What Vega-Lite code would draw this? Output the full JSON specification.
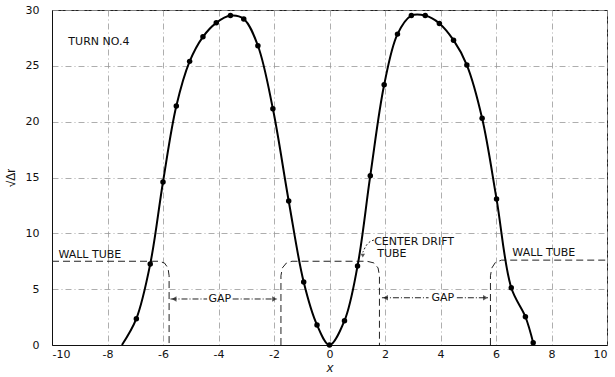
{
  "$schema": "https://vega.github.io/schema/vega-lite/v6.json",
  "width": 555,
  "height": 335,
  "autosize": "none",
  "padding": {"left": 52, "top": 10, "right": 8, "bottom": 32},
  "background": "white",
  "config": {
    "font": "Liberation Sans",
    "view": {"stroke": "#222", "strokeWidth": 1},
    "axis": {
      "labelFont": "DejaVu Sans",
      "labelFontSize": 11,
      "labelColor": "#111",
      "titleColor": "#111",
      "domainColor": "#111",
      "ticks": false,
      "grid": true,
      "gridColor": "#999",
      "gridDash": [6, 3, 1, 3],
      "gridWidth": 0.8
    }
  },
  "datasets": {
    "curve": [
      {"x": -7.48, "y": 0}, {"x": -6.96, "y": 2.36}, {"x": -6.46, "y": 7.25},
      {"x": -6.0, "y": 14.6}, {"x": -5.52, "y": 21.4}, {"x": -5.04, "y": 25.4},
      {"x": -4.56, "y": 27.6}, {"x": -4.08, "y": 28.85}, {"x": -3.57, "y": 29.5},
      {"x": -3.09, "y": 29.2}, {"x": -2.58, "y": 26.8}, {"x": -2.04, "y": 21.15},
      {"x": -1.47, "y": 12.9}, {"x": -0.93, "y": 5.64}, {"x": -0.45, "y": 1.8},
      {"x": 0, "y": 0}, {"x": 0.54, "y": 2.18}, {"x": 1.01, "y": 7.07},
      {"x": 1.47, "y": 15.16}, {"x": 1.97, "y": 23.3}, {"x": 2.45, "y": 27.84},
      {"x": 2.95, "y": 29.5}, {"x": 3.45, "y": 29.5}, {"x": 3.96, "y": 28.8},
      {"x": 4.47, "y": 27.3}, {"x": 4.95, "y": 25.07}, {"x": 5.5, "y": 20.3},
      {"x": 6.02, "y": 13.07}, {"x": 6.55, "y": 5.13}, {"x": 7.06, "y": 2.53},
      {"x": 7.34, "y": 0.2}
    ],
    "tubes": [
      {"g": "L", "i": 0, "x": -10, "y": 7.5}, {"g": "L", "i": 1, "x": -6.15, "y": 7.5},
      {"g": "L", "i": 2, "x": -5.95, "y": 7.35}, {"g": "L", "i": 3, "x": -5.82, "y": 6.9},
      {"g": "L", "i": 4, "x": -5.78, "y": 6.2}, {"g": "L", "i": 5, "x": -5.78, "y": 0},
      {"g": "C", "i": 0, "x": -1.75, "y": 0}, {"g": "C", "i": 1, "x": -1.75, "y": 6.2},
      {"g": "C", "i": 2, "x": -1.7, "y": 6.9}, {"g": "C", "i": 3, "x": -1.55, "y": 7.35},
      {"g": "C", "i": 4, "x": -1.35, "y": 7.5}, {"g": "C", "i": 5, "x": 1.35, "y": 7.5},
      {"g": "C", "i": 6, "x": 1.6, "y": 7.35}, {"g": "C", "i": 7, "x": 1.75, "y": 6.9},
      {"g": "C", "i": 8, "x": 1.8, "y": 6.2}, {"g": "C", "i": 9, "x": 1.8, "y": 0},
      {"g": "R", "i": 0, "x": 5.8, "y": 0}, {"g": "R", "i": 1, "x": 5.8, "y": 6.2},
      {"g": "R", "i": 2, "x": 5.85, "y": 6.9}, {"g": "R", "i": 3, "x": 5.98, "y": 7.4},
      {"g": "R", "i": 4, "x": 6.2, "y": 7.6}, {"g": "R", "i": 5, "x": 10, "y": 7.6}
    ],
    "gapSegs": [
      {"x": -5.73, "x2": -4.41, "y": 4.12}, {"x": -3.49, "x2": -1.89, "y": 4.12},
      {"x": 1.89, "x2": 3.57, "y": 4.23}, {"x": 4.59, "x2": 5.73, "y": 4.23}
    ],
    "arrowL": [{"x": -5.6, "y": 4.12}, {"x": 2.02, "y": 4.23}],
    "arrowR": [{"x": -1.98, "y": 4.12}, {"x": 5.62, "y": 4.23}],
    "labels": [
      {"t": "TURN NO.4", "x": -9.41, "y": 27.1},
      {"t": "WALL TUBE", "x": -9.77, "y": 8.06},
      {"t": "CENTER DRIFT", "x": 1.61, "y": 9.22},
      {"t": "TUBE", "x": 1.72, "y": 8.15},
      {"t": "WALL TUBE", "x": 6.59, "y": 8.24}
    ],
    "gapLabels": [
      {"t": "GAP", "x": -3.95, "y": 4.12},
      {"t": "GAP", "x": 4.08, "y": 4.23}
    ],
    "pointer": [
      {"i": 0, "x": 1.6, "y": 9.4}, {"i": 1, "x": 1.35, "y": 9.0},
      {"i": 2, "x": 1.2, "y": 8.3}
    ],
    "pointerHead": [{"x": 1.2, "y": 8.0}]
  },
  "encoding": {
    "x": {"field": "x", "type": "quantitative",
      "scale": {"domain": [-10, 10], "nice": false},
      "axis": {"values": [-10, -8, -6, -4, -2, 0, 2, 4, 6, 8, 10], "title": "x",
        "titleFontStyle": "italic", "titleFontWeight": "normal", "titleFontSize": 13,
        "titlePadding": 2, "labelPadding": 3,
        "labelExpr": "datum.value < 0 ? '-' + abs(datum.value) : '' + datum.value"}},
    "y": {"field": "y", "type": "quantitative",
      "scale": {"domain": [0, 30], "nice": false},
      "axis": {"values": [0, 5, 10, 15, 20, 25, 30], "title": "√Δr",
        "titleFontWeight": "normal", "titleFontSize": 12, "labelPadding": 13,
        "titlePadding": 8}}
  },
  "layer": [
    {"data": {"name": "tubes"}, "mark": {"type": "line", "color": "#222", "strokeWidth": 1, "strokeDash": [7, 4]},
      "encoding": {"detail": {"field": "g"}, "order": {"field": "i"}}},
    {"data": {"name": "gapSegs"}, "mark": {"type": "rule", "color": "#222", "strokeWidth": 1, "strokeDash": [6, 2, 1, 2]},
      "encoding": {"x2": {"field": "x2"}}},
    {"data": {"name": "arrowL"}, "mark": {"type": "point", "shape": "triangle-left", "filled": true, "color": "#111", "size": 30}},
    {"data": {"name": "arrowR"}, "mark": {"type": "point", "shape": "triangle-right", "filled": true, "color": "#111", "size": 30}},
    {"data": {"name": "pointer"}, "mark": {"type": "line", "color": "#222", "strokeWidth": 1, "strokeDash": [2, 2], "interpolate": "monotone"},
      "encoding": {"order": {"field": "i"}}},
    {"data": {"name": "pointerHead"}, "mark": {"type": "point", "shape": "triangle-down", "filled": true, "color": "#111", "size": 20}},
    {"data": {"name": "curve"}, "mark": {"type": "line", "color": "#000", "strokeWidth": 2, "interpolate": "catmull-rom"}},
    {"data": {"name": "curve"}, "transform": [{"filter": "datum.x > -7.4"}], "mark": {"type": "circle", "color": "#000", "opacity": 1, "size": 30}},
    {"data": {"name": "labels"}, "mark": {"type": "text", "align": "left", "baseline": "middle", "font": "DejaVu Sans", "fontSize": 11, "color": "#111"},
      "encoding": {"text": {"field": "t"}}},
    {"data": {"name": "gapLabels"}, "mark": {"type": "text", "align": "center", "baseline": "middle", "font": "DejaVu Sans", "fontSize": 11, "color": "#111"},
      "encoding": {"text": {"field": "t"}}}
  ]
}
